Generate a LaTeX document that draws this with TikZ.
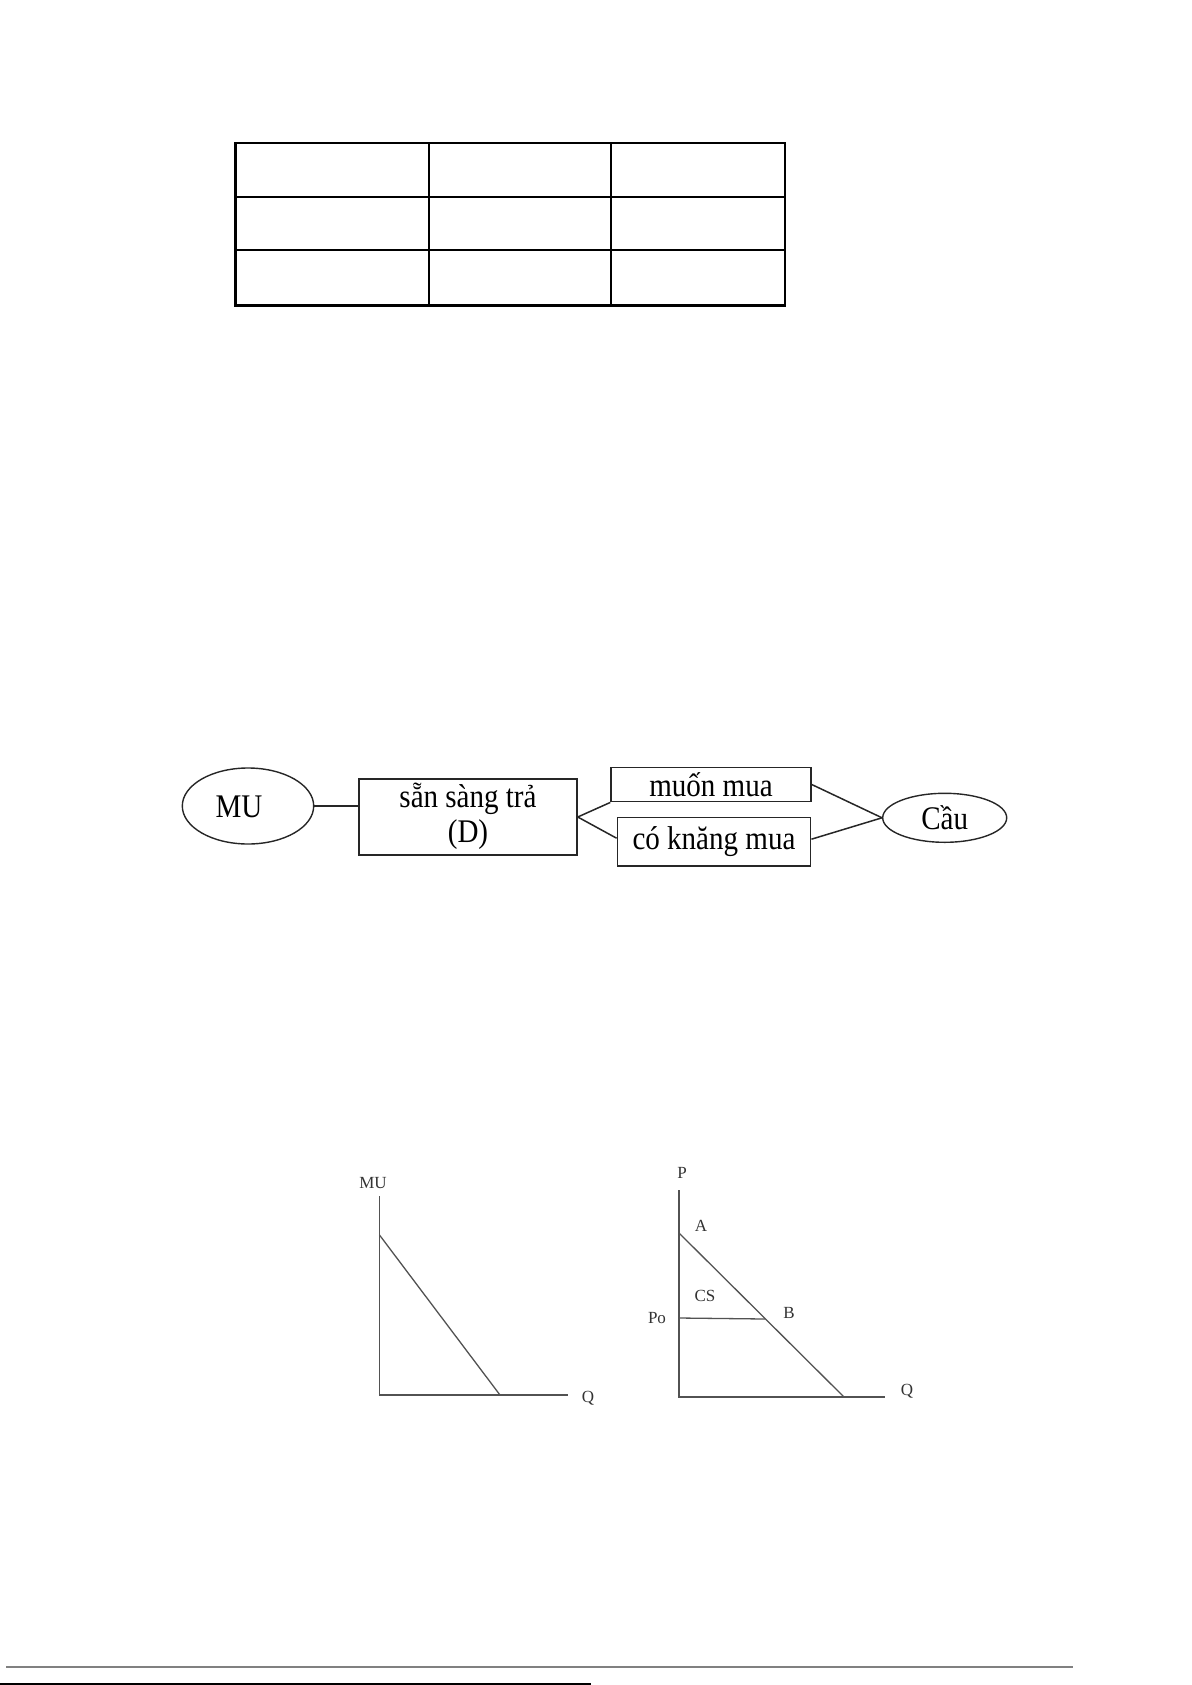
\documentclass[tikz,border=0pt]{standalone}
\usepackage{fontspec}
\setmainfont{Liberation Serif}
\newfontfamily\flowfont[FakeStretch=0.88]{Liberation Serif}
\usetikzlibrary{shapes.geometric,calc}
\begin{document}
\begin{tikzpicture}[x=0.5pt,y=-0.5pt,
  tline/.style={line width=1.1pt,black},
  fbox/.style={draw=black!85,line width=0.75pt,rectangle,inner sep=0pt,font=\flowfont\fontsize{16.5}{18}\selectfont,align=center},
  fell/.style={draw=black!85,line width=0.7pt,ellipse,inner sep=0pt,font=\flowfont\fontsize{16.5}{18}\selectfont},
  ftext/.style={inner sep=0pt,font=\flowfont\fontsize{16.5}{17.5}\selectfont,align=center},
  fcon/.style={draw=black!85,line width=0.75pt},
  gline/.style={draw=black!68,line width=0.65pt},
  glab/.style={font=\fontsize{8.5}{9}\selectfont,inner sep=0pt,text=black!80}]
\useasboundingbox (0,0) rectangle (1191,1685);
% table
\coordinate (tl) at (235.5,143);
\coordinate (br) at (785,305.5);
\draw[tline] (tl) rectangle (br);
\draw[tline] (235.5,196.7) -- (785,196.7);
\draw[tline] (235.5,250) -- (785,250);
\draw[tline] (428.7,143) -- (428.7,305.5);
\draw[tline] (611,143) -- (611,305.5);
% flowchart
\node[fell,minimum width=65.7pt,minimum height=38pt] (mu) at (248,806) {};
\node[ftext] (mut) at (239,807) {MU};
\node[fbox,minimum width=109pt,minimum height=38pt] (d) at (468,817) {};
\node[ftext] (dt) at (468,816) {sẵn sàng trả\\(D)};
\node[fbox,minimum width=100pt,minimum height=17.2pt] (m) at (711,784.5) {muốn mua};
\node[fbox,minimum width=96.7pt,minimum height=24.4pt] (k) at (714,841.7) {có knăng mua};
\node[fell,minimum width=62pt,minimum height=24.5pt] (c) at (944.7,817.8) {Cầu};
\draw[fcon] (mu.east) -- (mu.east -| d.west);
\draw[fcon] (d.east) -- (m.south west);
\draw[fcon] (d.east) -- ($(k.north west)!0.43!(k.south west)$);
\draw[fcon] (m.east) -- (c.west);
\draw[fcon] ($(k.north east)!0.45!(k.south east)$) -- (c.west);
% left graph
\coordinate (o1) at (379.5,1395);
\draw[gline] (379.5,1196) -- (o1) -- (568,1395);
\draw[gline] (379.5,1235) -- (500,1395);
\node[glab] (mul) at (373,1183) {MU};
\node[glab] (q1) at (588,1398) {Q};
% right graph
\coordinate (o2) at (679,1397);
\draw[gline] (679,1190) -- (o2) -- (885,1397);
\draw[gline] (679,1233) -- (844,1397);
\draw[gline] (679,1318) -- (765,1319);
\node[glab] (p) at (682,1173) {P};
\node[glab] (a) at (701,1226) {A};
\node[glab] (cs) at (705,1296) {CS};
\node[glab] (po) at (657,1318) {Po};
\node[glab] (b) at (789,1313) {B};
\node[glab] (q2) at (907,1391) {Q};
% footer lines
\draw[black!50,line width=0.6pt] (6,1667) -- (1073,1667);
\draw[black,line width=1.2pt] (0,1684) -- (591,1684);
\end{tikzpicture}
\end{document}
